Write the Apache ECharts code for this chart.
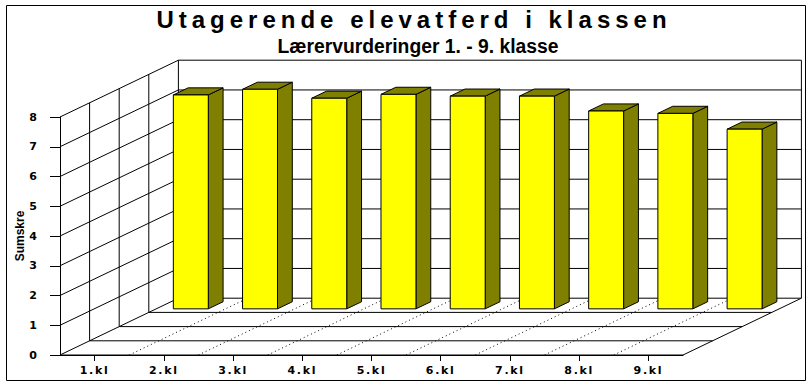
<!DOCTYPE html>
<html><head><meta charset="utf-8">
<script src="https://cdn.jsdelivr.net/npm/echarts@6/dist/echarts.min.js"></script>
<style>
html,body{margin:0;padding:0;background:#fff;}
#c{width:808px;height:388px;}
#c text[style*="ttl"]{letter-spacing:5px;}
#c text[style*="xlab"]{letter-spacing:1.7px;}
</style></head><body><div id="c"></div>
<script>
const categories = ['1.kl','2.kl','3.kl','4.kl','5.kl','6.kl','7.kl','8.kl','9.kl'];
const values = [7.19, 7.38, 7.08, 7.21, 7.15, 7.15, 6.65, 6.57, 6.04];
const yMin = 0, yMax = 8, yStep = 1;
const titleText = 'Utagerende elevatferd i klassen';
const subtitleText = 'Lærervurderinger 1. - 9. klasse';
const yName = 'Sumskre';

const DX = 29.6, DY = -14.2, STEPS = 4;

function renderWalls(params, api){
  const cs = params.coordSys;
  const L = cs.x, R = cs.x + cs.width;
  const y0 = api.coord([0, yMin])[1];
  const yTop = api.coord([0, yMax])[1];
  const cw = api.size([1,0])[0];
  const children = [];
  const line = (x1,y1,x2,y2,dash) => children.push({type:'line', silent:true,
    shape:{x1,y1,x2,y2}, style:{stroke:'#000', lineWidth:1, lineDash: dash||null}});
  const BX = DX*STEPS, BY = DY*STEPS;
  for (let v=yMin; v<=yMax; v+=yStep){
    const y = api.coord([0,v])[1];
    line(L, y, L+BX, y+BY);
    line(L+BX, y+BY, R+BX, y+BY);
  }
  for (let k=1;k<=STEPS;k++) line(L+k*DX, y0+k*DY, L+k*DX, yTop+k*DY);
  line(R+BX, y0+BY, R+BX, yTop+BY);
  for (let k=0;k<STEPS;k++) line(L+k*DX, y0+k*DY, R+k*DX, y0+k*DY);
  line(R, y0, R+BX, y0+BY);
  for (let i=1;i<categories.length;i++) line(L+i*cw, y0, L+i*cw+BX, y0+BY, [1,3]);
  return {type:'group', children};
}

function renderBar(params, api){
  const xi = api.value(0), v = api.value(1);
  const b = api.coord([xi, yMin]), t = api.coord([xi, v]);
  const w = api.size([1,0])[0]*0.505;
  const z0 = 3.25, z1 = 3.75;
  const x1 = b[0]-w/2 + DX*z0, x2 = x1 + w;
  const yb = b[1] + DY*z0, yt = t[1] + DY*z0;
  const hx = DX*(z1-z0), hy = DY*(z1-z0);
  const st = {stroke:'#000', lineWidth:1, lineJoin:'miter'};
  return {type:'group', children:[
    {type:'polygon', shape:{points:[[x2,yb],[x2,yt],[x2+hx,yt+hy],[x2+hx,yb+hy]]}, style:Object.assign({fill:'#808000'}, st)},
    {type:'polygon', shape:{points:[[x1,yt],[x1+hx,yt+hy],[x2+hx,yt+hy],[x2,yt]]}, style:Object.assign({fill:'#808000'}, st)},
    {type:'rect', shape:{x:x1,y:yt,width:w,height:yb-yt}, style:Object.assign({fill:'#ffff00'}, st)}
  ]};
}

const chart = echarts.init(document.getElementById('c'), null, {renderer:'svg'});
chart.setOption({
  animation:false,
  backgroundColor:'#fff',
  grid:{left:60, top:117, width:623, height:238},
  xAxis:{type:'category', data:categories, boundaryGap:true,
    axisLine:{show:true, lineStyle:{color:'#000', width:1}},
    axisTick:{show:true, alignWithLabel:true, length:6, lineStyle:{color:'#000'}},
    axisLabel:{margin:10, color:'#000', fontWeight:'bold', fontSize:11, fontFamily:'"DejaVu Sans", xlab'},
    splitLine:{show:false}},
  yAxis:{type:'value', min:yMin, max:yMax, interval:yStep,
    name:yName, nameLocation:'middle', nameGap:34, nameRotate:90, nameMoveOverlap:false,
    nameTextStyle:{color:'#000', fontWeight:'bold', fontSize:12, fontFamily:'"Liberation Sans"'},
    axisLine:{show:true, lineStyle:{color:'#000', width:1}},
    axisTick:{show:true, length:10, lineStyle:{color:'#000'}},
    axisLabel:{margin:23, color:'#000', fontWeight:'bold', fontSize:11, fontFamily:'"DejaVu Sans"'},
    splitLine:{show:false}},
  graphic:[
    {type:'rect', silent:true, shape:{x:6.5, y:5.5, width:799, height:375}, style:{fill:'none', stroke:'#000', lineWidth:1}},
    {type:'text', silent:true, x:414, y:19, style:{text:titleText, fill:'#000', font:'bold 24px "Liberation Sans", ttl', align:'center', verticalAlign:'middle'}},
    {type:'text', silent:true, x:418, y:46, scaleX:0.92, style:{text:subtitleText, fill:'#000', font:'bold 21px "Liberation Sans"', align:'center', verticalAlign:'middle'}}
  ],
  series:[
    {type:'custom', name:'walls', renderItem:renderWalls, data:[[0,0]], silent:true, z:1},
    {type:'custom', name:'Sumskre', renderItem:renderBar, data:values.map((v,i)=>[i,v]), z:2}
  ]
});
</script></body></html>
